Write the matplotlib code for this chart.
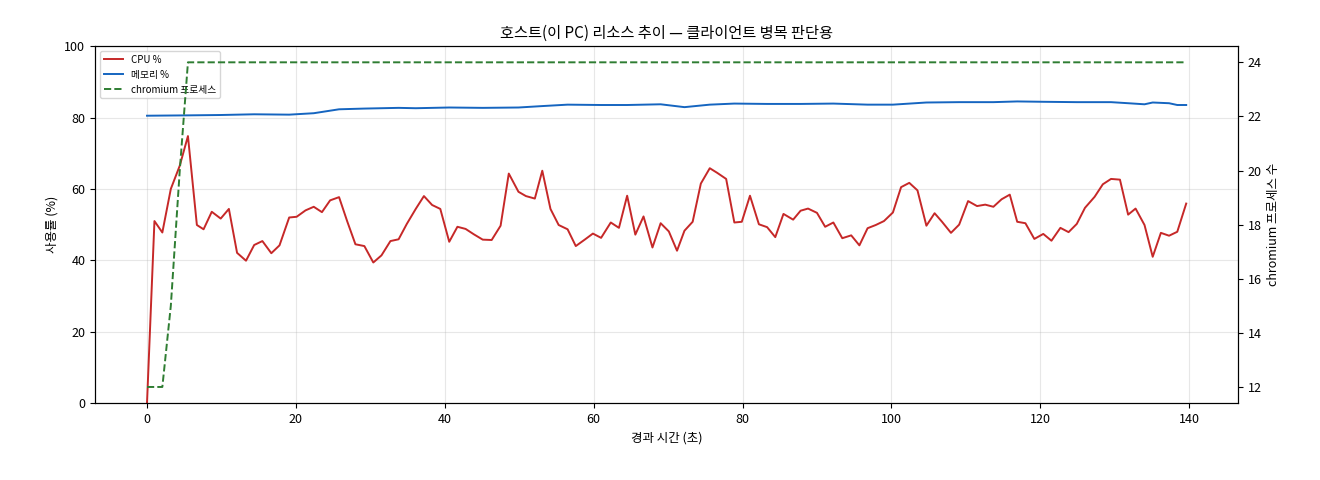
import matplotlib
matplotlib.use("Agg")
import matplotlib.pyplot as plt

plt.rcParams['font.family'] = ['Noto Sans CJK KR', 'DejaVu Sans']

cpu_t = [0, 1.0, 2.06, 3.2, 4.4, 5.5, 6.7, 7.6, 8.7, 9.9, 11.0, 12.1, 13.3, 14.4, 15.5, 16.7, 17.8,
         19.1, 20.1, 21.3, 22.4, 23.5, 24.6, 25.8, 26.9, 28.0, 29.2, 30.4, 31.5, 32.7, 33.8, 34.9,
         36.1, 37.2, 38.3, 39.4, 40.6, 41.7, 42.8, 43.9, 45.1, 46.3, 47.5, 48.6, 49.9, 50.9, 52.1,
         53.1, 54.2, 55.3, 56.5, 57.6, 58.8, 59.9, 61.0, 62.3, 63.4, 64.5, 65.6, 66.7, 67.9, 69.0,
         70.1, 71.2, 72.2, 73.3, 74.4, 75.6, 76.6, 77.8, 78.9, 79.9, 81.0, 82.2, 83.3, 84.4, 85.5,
         86.8, 87.8, 88.8, 90.0, 91.1, 92.2, 93.4, 94.6, 95.7, 96.8, 97.9, 99.0, 100.2, 101.3, 102.4,
         103.5, 104.7, 105.8, 106.8, 108.0, 109.1, 110.3, 111.5, 112.6, 113.7, 114.8, 115.9, 116.9,
         118.0, 119.2, 120.4, 121.5, 122.7, 123.8, 124.9, 126.0, 127.3, 128.4, 129.5, 130.7, 131.8,
         132.8, 134.0, 135.1, 136.2, 137.3, 138.4, 139.6]
cpu = [0, 51.0, 47.8, 60.0, 66.5, 74.8, 49.9, 48.7, 53.6, 51.7, 54.4, 42.1, 39.9, 44.3, 45.4, 42.0, 44.2,
       52.0, 52.2, 54.0, 55.0, 53.5, 56.8, 57.7, 50.9, 44.5, 44.0, 39.4, 41.4, 45.4, 45.9, 50.2,
       54.4, 58.0, 55.5, 54.4, 45.2, 49.4, 48.8, 47.3, 45.8, 45.7, 49.7, 64.3, 59.2, 58.0, 57.3,
       65.1, 54.4, 49.9, 48.7, 44.0, 45.8, 47.5, 46.3, 50.6, 49.1, 58.1, 47.2, 52.3, 43.6, 50.4,
       48.1, 42.7, 48.3, 50.8, 61.5, 65.8, 64.5, 62.8, 50.6, 50.8, 58.1, 50.1, 49.3, 46.5, 53.0,
       51.4, 53.9, 54.5, 53.3, 49.4, 50.6, 46.2, 47.0, 44.2, 49.0, 49.9, 51.0, 53.4, 60.5, 61.7,
       59.6, 49.7, 53.2, 50.8, 47.7, 50.0, 56.6, 55.2, 55.6, 55.0, 57.1, 58.4, 50.8,
       50.4, 46.0, 47.4, 45.5, 49.1, 47.9, 50.2, 54.7, 57.8, 61.3, 62.8, 62.6, 52.8,
       54.5, 49.9, 41.0, 47.7, 46.9, 48.0, 55.9]

mem_t = [0, 5.5, 9.9, 14.4, 19.1, 22.4, 25.8, 29.2, 33.8, 36.1, 40.6, 45.1, 49.9, 53.1, 56.5, 61.0,
         64.5, 69.0, 72.2, 75.6, 78.9, 83.3, 87.8, 92.2, 96.8, 100.2, 104.7, 109.1, 113.7, 116.9,
         120.4, 124.9, 129.5, 131.8, 134.0, 135.1, 137.3, 138.4, 139.6]
mem = [80.5, 80.6, 80.7, 80.9, 80.8, 81.2, 82.3, 82.5, 82.7, 82.6, 82.8, 82.7, 82.8, 83.2, 83.6, 83.5,
       83.5, 83.7, 82.9, 83.6, 83.9, 83.8, 83.8, 83.9, 83.6, 83.6, 84.2, 84.3, 84.3, 84.5,
       84.4, 84.3, 84.3, 84.0, 83.7, 84.2, 84.0, 83.5, 83.5]

proc_t = [0, 1.0, 2.06, 3.2, 4.4, 5.5, 139.6]
proc = [12, 12, 12, 15, 20, 24, 24]

fig, ax = plt.subplots(figsize=(13.2, 4.8), dpi=100)
fig.subplots_adjust(left=0.072, right=0.938, top=0.904, bottom=0.16)
l1, = ax.plot(cpu_t, cpu, color='#c62828', lw=1.4, label='CPU %')
l2, = ax.plot(mem_t, mem, color='#1565c0', lw=1.4, label='메모리 %')
ax.set_ylim(0, 100)
ax.set_xlabel('경과 시간 (초)', fontsize=9)
ax.set_ylabel('사용률 (%)', fontsize=9)
ax.grid(True, alpha=0.3)
ax.tick_params(labelsize=9)
ax2 = ax.twinx()
l3, = ax2.plot(proc_t, proc, color='#2e7d32', lw=1.4, ls='--', label='chromium 프로세스')
ax2.set_ylabel('chromium 프로세스 수', fontsize=9)
ax2.tick_params(labelsize=9)
ax.set_title('호스트(이 PC) 리소스 추이 — 클라이언트 병목 판단용', fontsize=11)
ax.legend(handles=[l1, l2, l3], loc='upper left', fontsize=7)
fig.savefig('out.png')
